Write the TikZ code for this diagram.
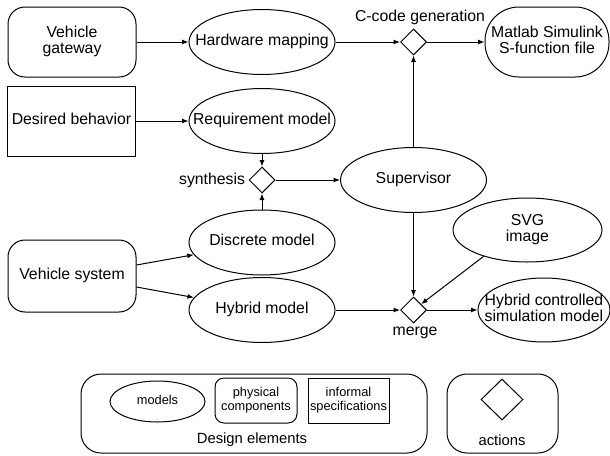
\documentclass[tikz,border=0pt]{standalone}
\usepackage{fontspec}
\setmainfont{Liberation Sans}
\usetikzlibrary{shapes.geometric,arrows.meta}
% centred (possibly multi-line) text that does not widen its node
\newcommand{\ctext}[1]{\makebox[0pt]{\begin{tabular}{@{}c@{}}#1\end{tabular}}}
\begin{document}
\begin{tikzpicture}[x=1pt,y=-1pt, line width=1pt,
  font=\fontsize{15.8}{15.5}\selectfont,
  base/.style={draw, inner sep=0pt, line width=1pt},
  model/.style={base, ellipse, minimum width=146pt, minimum height=65pt},
  physbox/.style={base, rectangle, rounded corners=17pt, minimum width=128pt, minimum height=70pt},
  specbox/.style={base, rectangle, minimum width=128pt, minimum height=70pt},
  action/.style={base, diamond, minimum width=26pt, minimum height=26pt},
  arr/.style={-{Latex[length=6.5pt,width=5pt]}, line width=1pt},
  lbl/.style={inner sep=0pt},
  legendtext/.style={font=\fontsize{12.8}{14}\selectfont},
  legendcaption/.style={inner sep=0pt, font=\fontsize{14.8}{15}\selectfont}]
\useasboundingbox (0,0) rectangle (610,455);

% top row
\node[physbox] (gw) at (72,42) {\ctext{Vehicle\\gateway}};
\node[model] (hw) at (262,42) {\ctext{Hardware mapping}};
\node[action] (cc) at (413.5,42) {};
\node[lbl] (ccl) at (420,17.5) {C-code generation};
\node[base, rounded corners=34pt, minimum width=124pt, minimum height=70pt] (ml) at (547,42) {\ctext{Matlab Simulink\\S-function file}};

% requirements and synthesis
\node[specbox] (db) at (71.5,121) {\ctext{Desired behavior}};
\node[model] (rq) at (262,121) {\ctext{Requirement model}};
\node[action] (sy) at (262,180) {};
\node[lbl, anchor=east] (syl) at ([xshift=-3pt]sy.west) {synthesis};
\node[model] (sv) at (413.5,180) {\ctext{Supervisor}};

% plant models and merge
\node[model] (dm) at (262,242.5) {\ctext{Discrete model}};
\node[physbox, minimum height=72pt] (vs) at (72,276) {\ctext{Vehicle system}};
\node[model] (hm) at (262,310) {\ctext{Hybrid model}};
\node[action] (mg) at (413.5,310) {};
\node[lbl] (mgl) at (415,333) {merge};
\node[model, minimum width=149pt, minimum height=64pt] (svg) at (527.5,230) {\ctext{SVG\\image}};
\node[model, minimum width=132pt, minimum height=64pt] (hc) at (544,310) {\ctext{Hybrid controlled\\simulation model}};

% connectors
\draw[arr] (gw) -- (hw);
\draw[arr] (hw) -- (cc);
\draw[arr] (cc) -- (ml);
\draw[arr] (db) -- (rq);
\draw[arr] (rq) -- (sy);
\draw[arr] (dm) -- (sy);
\draw[arr] (sy) -- (sv);
\draw[arr] (sv) -- (cc);
\draw[arr] (sv) -- (mg);
\draw[arr] ([yshift=11pt]vs.east) -- (dm);
\draw[arr] ([yshift=-11pt]vs.east) -- (hm);
\draw[arr] (hm) -- (mg);
\draw[arr] (svg.211) -- (mg);
\draw[arr] (mg) -- (hc);

% legend
\node[base, rounded corners=20pt, minimum width=346pt, minimum height=79pt] (de) at (254,413.5) {};
\node[base, ellipse, minimum width=95pt, minimum height=41pt, legendtext] (lm) at (157.5,401.5) {\ctext{models}};
\node[base, rounded corners=9pt, minimum width=82pt, minimum height=45pt, legendtext] (lp) at (256,400.5) {\ctext{physical\\components}};
\node[base, minimum width=81pt, minimum height=45pt, legendtext] (ls) at (348.5,400.5) {\ctext{informal\\specifications}};
\node[legendcaption] (del) at (252,440) {Design elements};
\node[base, rounded corners=20pt, minimum width=111pt, minimum height=79pt] (ac) at (502.5,413.5) {};
\node[base, diamond, minimum width=42pt, minimum height=41pt] (la) at (502,399.5) {};
\node[legendcaption] (acl) at (502,440) {actions};
\end{tikzpicture}
\end{document}
